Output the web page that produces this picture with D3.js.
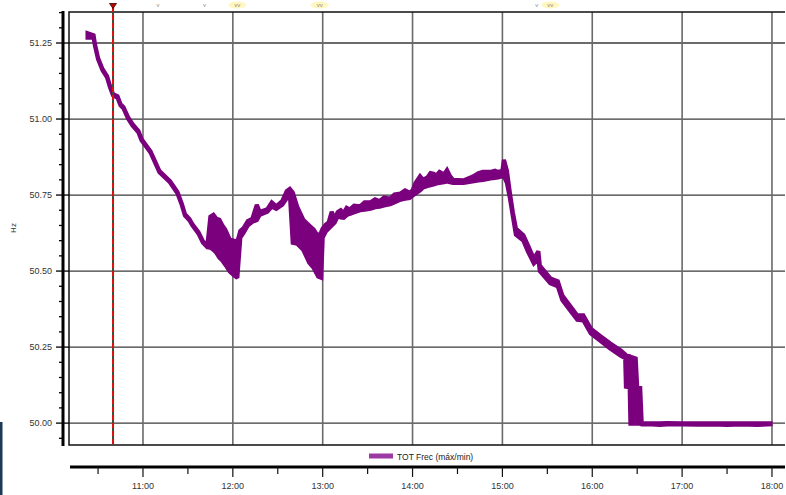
<!DOCTYPE html>
<html>
<head>
<meta charset="utf-8">
<script src="https://cdn.jsdelivr.net/npm/d3@7/dist/d3.min.js"></script>
<style>
  html, body { margin: 0; padding: 0; background: #fff; }
  svg { display: block; font-family: "Liberation Sans", Arial, sans-serif; }
</style>
</head>
<body>
<svg id="chart" width="786" height="495"></svg>
<script>
// Sample times (HH:MM[:SS]) with the max / min frequency recorded in each interval
const times = [
  "10:23","10:27","10:28","10:30","10:33","10:36","10:38","10:40","10:43","10:45",
  "10:47","10:50","10:53","10:57","10:59","11:05","11:11","11:18","11:23","11:26",
  "11:28","11:31","11:33","11:37","11:40","11:43","11:45","11:47","11:49","11:51",
  "11:53","11:55","11:58","12:01","12:03","12:05","12:07","12:10","12:13","12:16",
  "12:18","12:23","12:26","12:29","12:33","12:36","12:38","12:40","12:43","12:47",
  "12:51","12:54","12:57","12:59","13:00","13:02","13:04","13:06","13:08","13:10",
  "13:12","13:14","13:16","13:18","13:21","13:25","13:28","13:32","13:35","13:38",
  "13:41","13:45","13:48","13:52","13:55","13:58","14:00","14:02","14:05","14:07",
  "14:10","14:12","14:14","14:16","14:18","14:21","14:23","14:25","14:27","14:34",
  "14:40","14:44","14:47","14:52","14:55","14:57","15:00","15:01","15:03","15:05",
  "15:07","15:09","15:14","15:17","15:21","15:24","15:25","15:32","15:37","15:40",
  "15:45","15:50","15:54","15:59","16:05","16:12","16:19","16:22","16:22:30","16:25",
  "16:25:30","16:29","16:30","16:32","16:33","16:40","16:45","16:50","17:00","17:10",
  "17:20","17:30","17:40","17:50","17:59"
];
const freqMax = [
  51.282,51.275,51.244,51.201,51.164,51.141,51.108,51.082,51.075,51.049,
  51.039,51.006,50.983,50.960,50.934,50.894,50.829,50.796,50.760,50.720,
  50.687,50.671,50.654,50.628,50.598,50.584,50.679,50.685,50.672,50.669,
  50.650,50.636,50.603,50.600,50.596,50.632,50.640,50.664,50.672,50.718,
  50.694,50.703,50.726,50.713,50.730,50.763,50.770,50.758,50.711,50.669,
  50.650,50.636,50.613,50.628,50.640,50.652,50.660,50.695,50.672,50.694,
  50.700,50.690,50.708,50.702,50.715,50.713,50.726,50.726,50.736,50.730,
  50.742,50.738,50.752,50.755,50.765,50.758,50.765,50.790,50.812,50.800,
  50.808,50.822,50.820,50.815,50.826,50.818,50.832,50.812,50.800,50.798,
  50.810,50.822,50.826,50.826,50.830,50.826,50.830,50.866,50.830,50.757,
  50.692,50.640,50.618,50.585,50.540,50.565,50.518,50.476,50.466,50.420,
  50.387,50.354,50.354,50.311,50.288,50.262,50.239,50.226,50.222,50.220,
  50.218,50.212,50.118,50.116,50.000,49.999,49.999,50.000,49.999,49.999,
  49.999,49.999,49.999,49.999,49.999
];
const freqMin = [
  51.268,51.268,51.240,51.197,51.160,51.137,51.104,51.078,51.070,51.045,
  51.035,51.002,50.979,50.956,50.930,50.890,50.825,50.792,50.756,50.716,
  50.683,50.667,50.650,50.624,50.594,50.578,50.577,50.570,50.560,50.544,
  50.535,50.521,50.498,50.485,50.478,50.610,50.625,50.650,50.662,50.668,
  50.685,50.695,50.712,50.705,50.718,50.740,50.760,50.593,50.590,50.570,
  50.528,50.510,50.482,50.478,50.610,50.630,50.640,50.650,50.660,50.680,
  50.676,50.675,50.684,50.688,50.693,50.700,50.702,50.705,50.710,50.712,
  50.716,50.720,50.726,50.735,50.738,50.740,50.748,50.755,50.765,50.775,
  50.780,50.782,50.785,50.788,50.790,50.792,50.795,50.792,50.790,50.790,
  50.795,50.798,50.800,50.805,50.806,50.808,50.812,50.812,50.790,50.740,
  50.680,50.620,50.600,50.565,50.525,50.540,50.500,50.460,50.450,50.405,
  50.372,50.340,50.338,50.295,50.272,50.245,50.222,50.214,50.120,50.118,
  49.998,49.998,49.998,49.998,49.996,49.996,49.994,49.996,49.996,49.995,
  49.996,49.994,49.996,49.994,49.996
];
// Axis ticks
const yTickLabels = ["50.00","50.25","50.50","50.75","51.00","51.25"];
const xTickLabels = ["11:00","12:00","13:00","14:00","15:00","16:00","17:00","18:00"];
const seriesName = "TOT Frec (máx/min)";
const cursorTime = "10:40";
// Event markers along the top edge
const eventTimes = ["11:10","11:41","12:03","12:58","15:23","15:32"];
const eventGlyphs = ["v","v","vv","vv","v","vv"];
const eventHighlight = [false,false,true,true,false,true];

const day = "2016-07-20";
const parseT = s => new Date(`${day}T${s.length === 5 ? s + ":00" : s}`);
const addMin = (d, m) => new Date(d.getTime() + m * 60000);

const svg = d3.select("#chart");
const W = 786, H = 495;
const plot = { left: 69, right: 785, top: 12, bottom: 445 };

const x = d3.scaleTime()
  .domain([addMin(parseT("11:00"), -49.4), addMin(parseT("18:00"), 8.7)])
  .range([plot.left, plot.right]);
const y = d3.scaleLinear()
  .domain([49.928, 51.352])
  .range([plot.bottom, plot.top]);

const data = times.map((t, i) => ({ t: parseT(t), hi: freqMax[i], lo: freqMin[i] }));

// Grid: horizontal lines on labelled values, vertical lines on the hours
const yTicks = yTickLabels.map(Number);
const hourTicks = xTickLabels.map(parseT);

svg.append("g").selectAll("line").data(yTicks).join("line")
  .attr("x1", plot.left).attr("x2", plot.right)
  .attr("y1", d => y(d)).attr("y2", d => y(d))
  .attr("stroke", "#3a3a3a").attr("stroke-width", 1.3);

svg.append("g").selectAll("line").data(hourTicks).join("line")
  .attr("x1", d => x(d)).attr("x2", d => x(d))
  .attr("y1", plot.top).attr("y2", plot.bottom)
  .attr("stroke", "#6a6a6a").attr("stroke-width", 1.6);

// Plot frame (left, top, bottom)
svg.append("path")
  .attr("d", `M${plot.right},${plot.top}H${plot.left}V${plot.bottom}H${plot.right}`)
  .attr("fill", "none").attr("stroke", "#111").attr("stroke-width", 1.5);

// Max/min frequency band
const band = d3.area()
  .x(d => x(d.t))
  .y0(d => y(d.lo))
  .y1(d => y(d.hi))
  .curve(d3.curveLinear);

svg.append("path")
  .datum(data)
  .attr("d", band)
  .attr("fill", "#7a007e")
  .attr("stroke", "#7a007e")
  .attr("stroke-width", 4.2)
  .attr("stroke-linejoin", "miter")
  .attr("stroke-miterlimit", 2);

// Cursor line with its marker
const cx = x(parseT(cursorTime));
svg.append("line")
  .attr("x1", cx).attr("x2", cx).attr("y1", 7).attr("y2", plot.bottom)
  .attr("stroke", "#3d4a3d").attr("stroke-width", 2);
svg.append("line")
  .attr("x1", cx).attr("x2", cx).attr("y1", 7).attr("y2", plot.bottom)
  .attr("stroke", "#e01010").attr("stroke-width", 2)
  .attr("stroke-dasharray", "5,3");
svg.append("path")
  .attr("d", `M${cx - 3.5},3.5L${cx + 3.5},3.5L${cx},8.5Z`)
  .attr("fill", "#c00000").attr("stroke", "#300").attr("stroke-width", 0.8);

// Event markers
const ev = svg.append("g");
eventTimes.forEach((t, i) => {
  const ex = x(parseT(t));
  if (eventHighlight[i]) {
    ev.append("ellipse").attr("cx", ex).attr("cy", 5).attr("rx", 9).attr("ry", 3.5)
      .attr("fill", "#fff6b8").attr("opacity", 0.9);
  }
  ev.append("text").attr("x", ex).attr("y", 7).attr("text-anchor", "middle")
    .attr("font-size", 6).attr("fill", "#8a8a8a").text(eventGlyphs[i]);
});

// Y axis: thick spine, major and minor ticks
const yAxisX = 63;
svg.append("line")
  .attr("x1", yAxisX).attr("x2", yAxisX).attr("y1", plot.top - 1).attr("y2", plot.bottom + 1)
  .attr("stroke", "#000").attr("stroke-width", 3);
const minor = d3.range(0, 29).map(i => +(49.95 + i * 0.05).toFixed(2))
  .filter(v => !yTicks.some(t => Math.abs(t - v) < 1e-6));
svg.append("g").selectAll("line").data(minor).join("line")
  .attr("x1", 59).attr("x2", yAxisX).attr("y1", d => y(d)).attr("y2", d => y(d))
  .attr("stroke", "#000").attr("stroke-width", 1.3);
svg.append("g").selectAll("line").data(yTicks).join("line")
  .attr("x1", 56).attr("x2", plot.left).attr("y1", d => y(d)).attr("y2", d => y(d))
  .attr("stroke", "#000").attr("stroke-width", 1.3);
svg.append("g").selectAll("text").data(yTickLabels).join("text")
  .attr("x", 52).attr("y", d => y(+d) + 3.2)
  .attr("text-anchor", "end").attr("font-size", 9).attr("fill", "#333")
  .text(d => d);
svg.append("text")
  .attr("transform", "translate(16,228) rotate(-90)")
  .attr("text-anchor", "middle").attr("font-size", 8).attr("fill", "#333")
  .text("Hz");

// X axis below the legend strip
const xAxisY = 467;
svg.append("line")
  .attr("x1", 70).attr("x2", plot.right).attr("y1", xAxisY).attr("y2", xAxisY)
  .attr("stroke", "#000").attr("stroke-width", 3.2);
const halfHours = d3.timeMinute.every(30).range(x.domain()[0], x.domain()[1])
  .filter(d => d.getMinutes() === 30);
svg.append("g").selectAll("line").data(halfHours).join("line")
  .attr("x1", d => x(d)).attr("x2", d => x(d)).attr("y1", xAxisY).attr("y2", 474)
  .attr("stroke", "#111").attr("stroke-width", 1.2);
svg.append("g").selectAll("line").data(hourTicks).join("line")
  .attr("x1", d => x(d)).attr("x2", d => x(d)).attr("y1", xAxisY).attr("y2", 477)
  .attr("stroke", "#111").attr("stroke-width", 1.2);
svg.append("g").selectAll("text").data(xTickLabels).join("text")
  .attr("x", d => x(parseT(d))).attr("y", 489)
  .attr("text-anchor", "middle").attr("font-size", 9).attr("fill", "#333")
  .text(d => d);
svg.append("text")
  .attr("x", x(parseT("11:00"))).attr("y", 500)
  .attr("text-anchor", "middle").attr("font-size", 8).attr("fill", "#aaa")
  .text("20/07/2016");

// Legend
svg.append("rect").attr("x", 369).attr("y", 453.5).attr("width", 24).attr("height", 5)
  .attr("fill", "#9c3aa4");
svg.append("text").attr("x", 397).attr("y", 459.5)
  .attr("font-size", 8.5).attr("fill", "#222").text(seriesName);

// Navigation strip at the lower left
svg.append("rect").attr("x", 0).attr("y", 422).attr("width", 2.5).attr("height", H - 422)
  .attr("fill", "#1c3a56");
</script>
</body>
</html>
